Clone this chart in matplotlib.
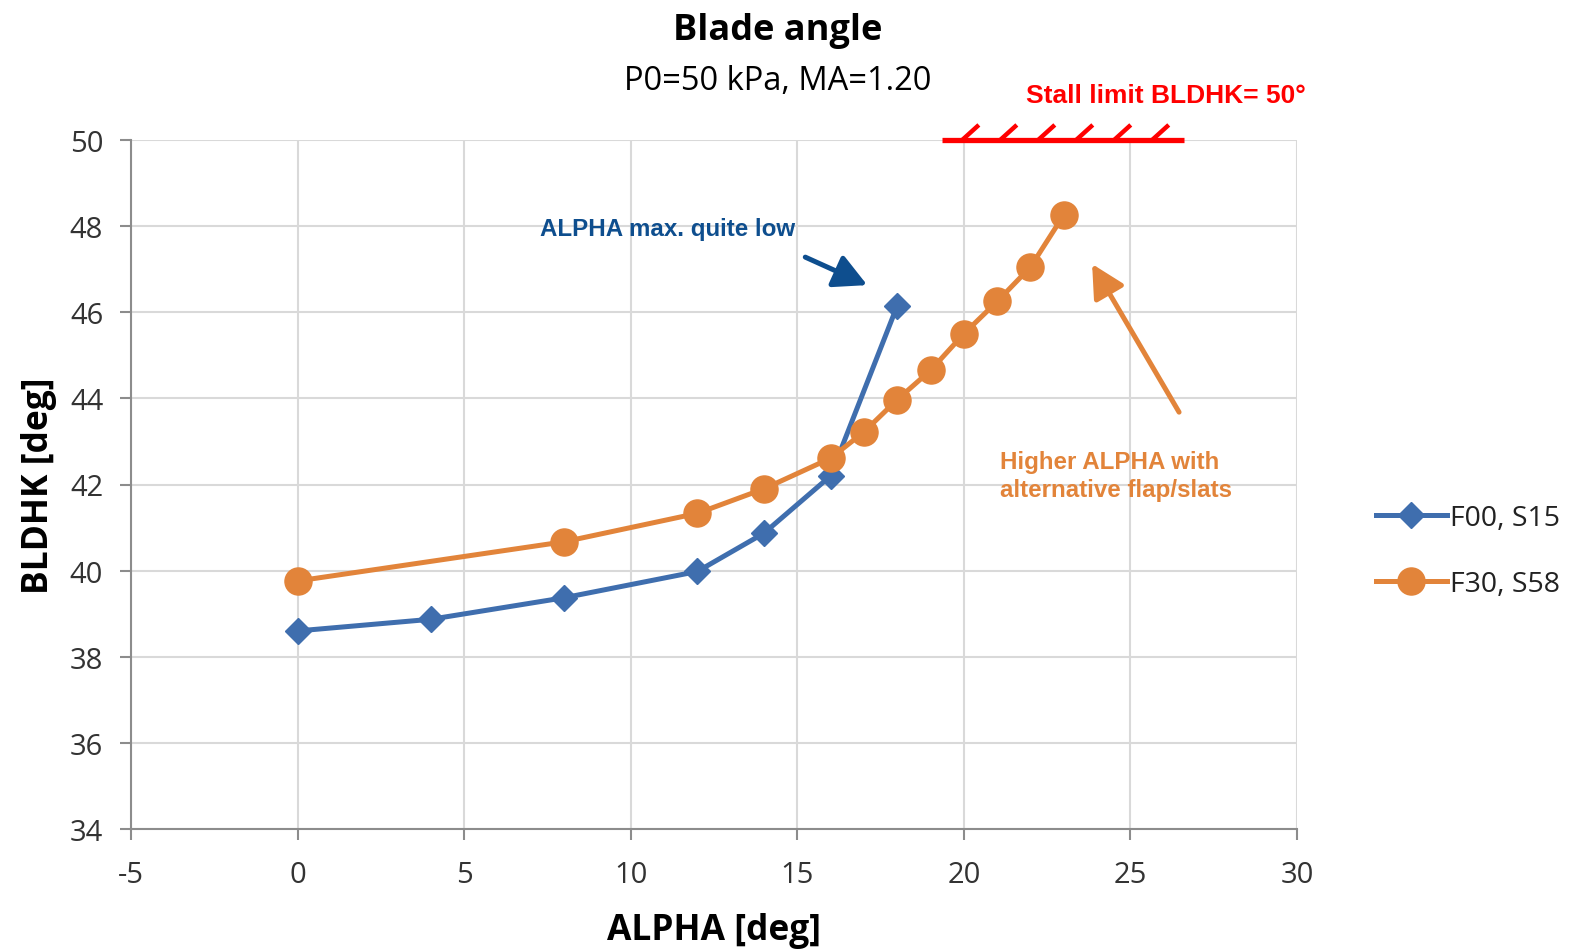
import numpy as np
import matplotlib
matplotlib.use("Agg")
import matplotlib.pyplot as plt

# --- data -------------------------------------------------------------
alpha_f00 = [0, 4, 8, 12, 14, 16, 18]
bldhk_f00 = [38.6, 38.87, 39.37, 39.98, 40.87, 42.2, 46.15]

alpha_f30 = [0, 8, 12, 14, 16, 17, 18, 19, 20, 21, 22, 23]
bldhk_f30 = [39.76, 40.67, 41.33, 41.9, 42.61, 43.22, 43.97, 44.65, 45.5, 46.25, 47.05, 48.26]

series_labels = ["F00, S15", "F30, S58"]
x_ticks = [-5, 0, 5, 10, 15, 20, 25, 30]
y_ticks = [34, 36, 38, 40, 42, 44, 46, 48, 50]
stall_limit = 50

# --- style ------------------------------------------------------------
BLUE = "#3F6EAE"
ORANGE = "#E2843A"
TEXT_BLUE = "#0E4E8E"
RED = "#FF0000"
GRID = "#D9D9D9"
SPINE = "#8C8C8C"
LABEL = "#333333"

plt.rcParams["font.family"] = ["Open Sans", "DejaVu Sans"]
plt.rcParams["axes.unicode_minus"] = False

fig = plt.figure(figsize=(15.75, 9.53), dpi=100)
ax = fig.add_axes([131 / 1575, 1 - 830 / 953, (1297 - 131) / 1575, (830 - 141) / 953])

ax.plot(alpha_f00, bldhk_f00, color=BLUE, lw=3.6, marker="D", ms=13.5,
        label=series_labels[0], zorder=3)
ax.plot(alpha_f30, bldhk_f30, color=ORANGE, lw=3.6, marker="o", ms=19.5,
        label=series_labels[1], zorder=4)

ax.set_xlim(x_ticks[0], x_ticks[-1])
ax.set_ylim(y_ticks[0], y_ticks[-1])
ax.set_xticks(x_ticks)
ax.set_yticks(y_ticks)
ax.grid(True, color=GRID, lw=1.5, zorder=0)
ax.set_axisbelow(True)
for s in ("top", "right"):
    ax.spines[s].set_visible(False)
for s in ("left", "bottom"):
    ax.spines[s].set_color(SPINE)
    ax.spines[s].set_linewidth(1.5)
ax.tick_params(axis="both", direction="out", length=8, width=1.5, color=SPINE,
               labelsize=21, labelcolor=LABEL)
ax.tick_params(axis="y", pad=12)
ax.tick_params(axis="x", pad=14)

ax.set_xlabel("ALPHA [deg]", fontsize=25.5, fontweight="bold", labelpad=17)
ax.set_ylabel("BLDHK [deg]", fontsize=25.5, fontweight="bold", labelpad=9)

# titles
fig.text(0.4935, 0.967, "Blade angle", ha="center", va="center",
         fontsize=26, fontweight="bold", color="black")
fig.text(0.4935, 0.915, "P0=50 kPa, MA=1.20", ha="center", va="center",
         fontsize=23.5, color="black")

# stall limit line with hatching
x0, x1 = 19.35, 26.6
ax.plot([x0, x1], [stall_limit, stall_limit], color=RED, lw=3.8,
        solid_capstyle="butt", clip_on=False, zorder=6)
for hx in np.arange(19.95, 26.0, 1.14):
    ax.plot([hx, hx + 0.5], [stall_limit, stall_limit + 0.35], color=RED, lw=3.2,
            solid_capstyle="butt", clip_on=False, zorder=6)
ax.text(26.07, 51.05, "Stall limit BLDHK= 50°", ha="center", va="center",
        fontsize=19, fontweight="bold", color=RED, family="Liberation Sans",
        clip_on=False)

# annotations
ax.annotate("", xy=(17.1, 46.63), xytext=(15.24, 47.28),
            arrowprops=dict(arrowstyle="-|>,head_length=1.0,head_width=0.52",
                            mutation_scale=20, lw=3.6, color=TEXT_BLUE,
                            shrinkA=0, shrinkB=0), zorder=7)
ax.text(11.1, 47.95, "ALPHA max. quite low", ha="center", va="center",
        fontsize=17.4, fontweight="bold", color=TEXT_BLUE, family="Liberation Sans")

ax.annotate("", xy=(23.85, 47.12), xytext=(26.46, 43.68),
            arrowprops=dict(arrowstyle="-|>,head_length=1.0,head_width=0.52",
                            mutation_scale=20, lw=3.6, color=ORANGE,
                            shrinkA=0, shrinkB=0), zorder=7)
ax.text(21.07, 42.22, "Higher ALPHA with\nalternative flap/slats", ha="left",
        va="center", fontsize=17.4, fontweight="bold", color=ORANGE,
        family="Liberation Sans", linespacing=1.28)

# legend
leg = ax.legend(loc="center left", bbox_to_anchor=(1350 / 1575, 1 - 552 / 953),
                bbox_transform=fig.transFigure, frameon=False, fontsize=20.5,
                handlelength=2.5, handletextpad=0.1, labelspacing=1.35,
                markerscale=1.0)
for t in leg.get_texts():
    t.set_color("#222222")

fig.savefig("out.png", dpi=100)
